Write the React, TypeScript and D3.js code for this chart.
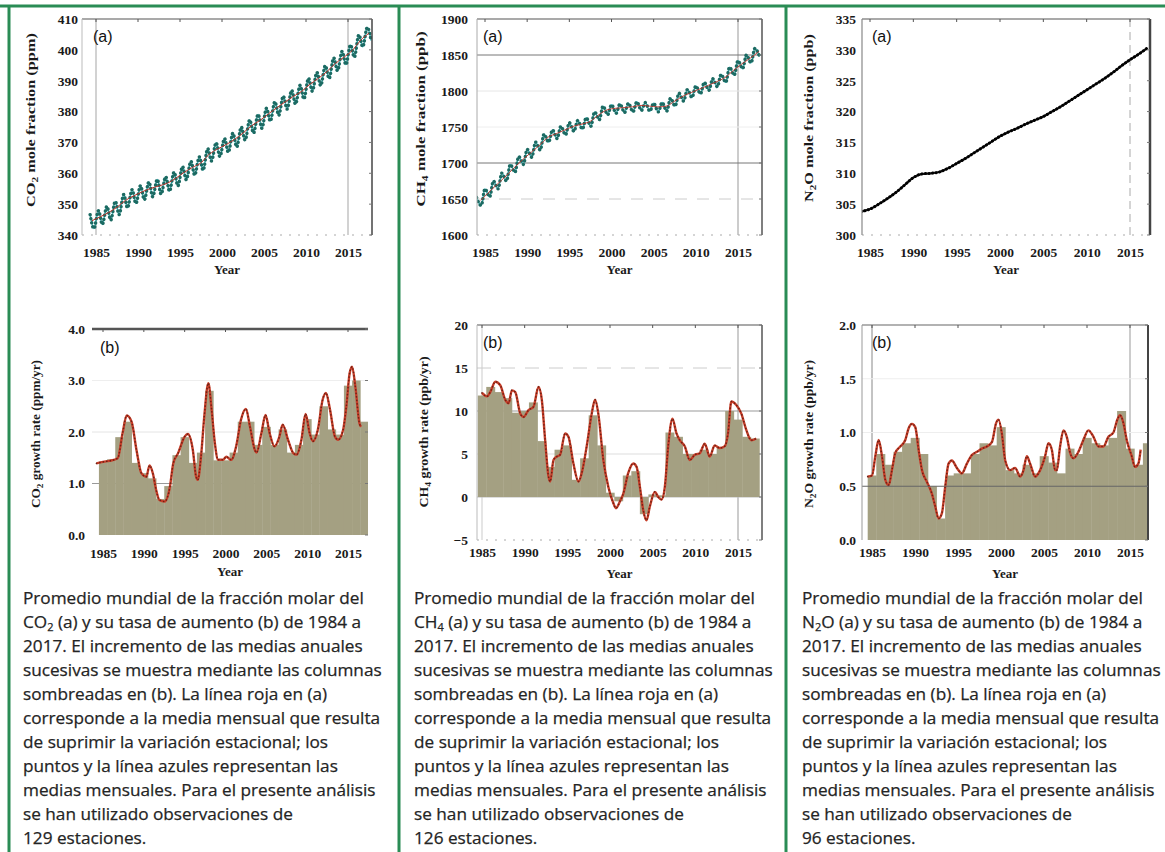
import React, { useEffect, useRef } from 'react';
import * as d3 from 'd3';

// ---- data ----
const years = [1984, 1985, 1986, 1987, 1988, 1989, 1990, 1991, 1992, 1993, 1994, 1995, 1996, 1997, 1998, 1999, 2000,
  2001, 2002, 2003, 2004, 2005, 2006, 2007, 2008, 2009, 2010, 2011, 2012, 2013, 2014, 2015, 2016, 2017];
const barYears = [1985, 1986, 1987, 1988, 1989, 1990, 1991, 1992, 1993, 1994, 1995, 1996, 1997, 1998, 1999, 2000,
  2001, 2002, 2003, 2004, 2005, 2006, 2007, 2008, 2009, 2010, 2011, 2012, 2013, 2014, 2015, 2016, 2017];
const yearTicks = [1985, 1990, 1995, 2000, 2005, 2010, 2015];

// CO2 (ppm): deseasonalised trend, seasonal maxima / minima
const co2Trend = [344.6, 345.9, 347.3, 349.0, 351.2, 352.7, 354.0, 355.1, 355.9, 356.8, 358.4, 360.3, 361.9, 363.4, 366.2, 367.9, 369.3,
  371.0, 373.0, 375.4, 377.1, 379.2, 381.2, 383.1, 384.9, 386.6, 388.9, 390.8, 393.0, 395.6, 397.6, 399.8, 403.1, 405.4];
const co2Peak = [346.6, 347.9, 349.3, 350.9, 353.1, 354.7, 356.0, 357.2, 358.0, 358.9, 360.4, 362.2, 363.9, 365.3, 368.0, 369.9, 371.3,
  373.0, 375.0, 377.3, 379.1, 381.1, 383.2, 385.0, 386.9, 388.5, 390.8, 392.7, 394.9, 397.4, 399.5, 401.6, 404.9, 407.3];
const co2Trough = [342.1, 343.4, 344.8, 346.6, 348.8, 350.2, 351.4, 352.4, 353.2, 354.2, 355.9, 357.9, 359.4, 361.0, 364.0, 365.4, 366.8,
  368.5, 370.7, 373.0, 374.6, 376.9, 378.8, 380.8, 382.4, 384.1, 386.6, 388.4, 390.7, 393.2, 395.2, 397.6, 401.0, 403.0];
const co2Bars = [1.42, 1.47, 1.9, 2.2, 1.4, 1.2, 1.1, 0.7, 0.95, 1.55, 1.9, 1.4, 1.6, 2.8, 1.45, 1.45, 1.6, 2.2, 2.2, 1.75, 2.1,
  1.75, 2.05, 1.6, 1.75, 2.25, 1.95, 2.5, 2.05, 1.95, 2.9, 3.0, 2.2];
const co2Rate = [[1984.2, 1.39], [1985.0, 1.42], [1985.8, 1.44], [1986.8, 1.49], [1987.4, 1.98], [1987.9, 2.32], [1988.5, 2.2],
  [1989.1, 1.65], [1989.7, 1.2], [1990.3, 1.13], [1990.7, 1.35], [1991.1, 1.2], [1991.5, 0.88], [1991.9, 0.68], [1992.55, 0.65],
  [1993.2, 0.94], [1993.6, 1.39], [1994.2, 1.59], [1995.0, 1.91], [1995.4, 1.96], [1996.0, 1.65], [1996.4, 1.13], [1996.6, 1.07],
  [1997.0, 1.52], [1997.4, 2.3], [1997.9, 2.95], [1998.3, 2.43], [1998.7, 1.78], [1999.1, 1.46], [1999.7, 1.46], [2000.1, 1.52],
  [2000.7, 1.46], [2001.3, 1.72], [2001.9, 2.24], [2002.5, 2.45], [2003.0, 2.1], [2003.6, 1.65], [2003.8, 1.6], [2004.4, 1.98],
  [2004.9, 2.33], [2005.4, 1.98], [2006.0, 1.72], [2006.6, 1.91], [2007.0, 2.14], [2007.65, 1.85], [2008.3, 1.59], [2008.7, 1.56],
  [2009.3, 1.85], [2009.8, 2.35], [2010.3, 1.98], [2010.7, 1.82], [2011.3, 2.04], [2011.9, 2.63], [2012.3, 2.76], [2012.8, 2.43],
  [2013.4, 1.91], [2013.8, 1.85], [2014.4, 2.04], [2014.8, 2.5], [2015.2, 3.14], [2015.5, 3.27], [2015.9, 2.88], [2016.4, 2.17],
  [2016.6, 2.1]];

// CH4 (ppb)
const ch4Trend = [1648, 1660, 1671, 1682, 1694, 1705, 1715, 1725, 1736, 1741, 1746, 1751, 1754, 1758, 1767, 1774, 1776,
  1777, 1778, 1780, 1779, 1778, 1779, 1786, 1793, 1798, 1803, 1808, 1813, 1819, 1829, 1838, 1846, 1855];
const ch4Peak = [1652, 1664, 1675, 1686, 1698, 1709, 1719, 1729, 1740, 1746, 1751, 1756, 1759, 1763, 1771, 1779, 1781,
  1782, 1783, 1785, 1784, 1783, 1784, 1790, 1797, 1802, 1807, 1812, 1817, 1823, 1833, 1842, 1850, 1859];
const ch4Trough = [1641, 1653, 1664, 1675, 1687, 1698, 1708, 1718, 1729, 1734, 1739, 1744, 1747, 1751, 1760, 1767, 1769,
  1770, 1771, 1773, 1772, 1771, 1772, 1779, 1786, 1791, 1796, 1801, 1806, 1812, 1822, 1831, 1839, 1848];
const ch4Bars = [11.8, 12.8, 12.2, 11.5, 9.8, 10.0, 11.0, 6.5, 3.5, 5.5, 6.0, 2.0, 4.5, 9.5, 6.0, 0.5, -0.5, 2.5, 3.0, -2.0, 0.3,
  0.2, 7.5, 7.0, 5.0, 5.0, 5.5, 5.0, 5.8, 10.0, 9.0, 7.0, 6.8];
const ch4Rate = [[1985.0, 12.1], [1985.58, 11.7], [1985.97, 12.2], [1986.56, 13.4], [1987.14, 13.0], [1987.73, 11.3], [1988.12, 10.9],
  [1988.5, 12.4], [1988.9, 12.2], [1989.48, 9.7], [1989.87, 9.3], [1990.45, 10.1], [1991.04, 10.5], [1991.62, 12.8], [1992.01, 11.3],
  [1992.4, 6.6], [1992.79, 2.4], [1992.99, 1.8], [1993.38, 4.3], [1993.77, 4.7], [1994.15, 4.9], [1994.74, 7.4], [1995.13, 7.0],
  [1995.71, 3.9], [1996.3, 1.8], [1996.69, 2.8], [1997.27, 5.9], [1997.86, 9.7], [1998.25, 11.3], [1998.63, 9.7], [1999.22, 4.3],
  [1999.8, 1.2], [2000.39, -0.7], [2000.7, -1.3], [2001.17, -0.5], [2001.56, 0.4], [2002.14, 2.8], [2002.73, 3.9], [2003.12, 3.5],
  [2003.5, 1.2], [2003.89, -1.5], [2004.28, -2.7], [2004.67, -1.1], [2005.26, 0.6], [2005.65, 0], [2006.04, -0.3], [2006.43, 1.2],
  [2006.82, 5.9], [2007.32, 9.1], [2007.79, 7.4], [2008.18, 6.6], [2008.76, 5.9], [2009.35, 4.3], [2009.93, 4.9], [2010.52, 5.1],
  [2011.1, 6.2], [2011.69, 4.7], [2012.27, 6.0], [2012.85, 5.7], [2013.44, 5.9], [2013.83, 7.4], [2014.22, 11.1], [2014.8, 10.7],
  [2015.39, 9.7], [2015.97, 7.8], [2016.55, 6.6], [2017.14, 6.8]];

// N2O (ppb)
const n2oMean = [303.8, 304.2, 305.0, 305.9, 306.9, 308.1, 309.3, 309.9, 310.0, 310.2, 310.8, 311.6, 312.4, 313.3, 314.2, 315.1, 316.0,
  316.7, 317.3, 318.0, 318.6, 319.2, 320.0, 320.8, 321.7, 322.6, 323.5, 324.4, 325.3, 326.3, 327.4, 328.4, 329.3, 330.3];
const n2oBars = [0.6, 0.8, 0.7, 0.82, 0.9, 0.95, 0.8, 0.5, 0.2, 0.6, 0.62, 0.62, 0.8, 0.9, 0.88, 1.05, 0.65, 0.62, 0.7, 0.62, 0.78,
  0.72, 0.62, 0.85, 0.8, 0.95, 0.9, 0.88, 0.95, 1.2, 0.85, 0.7, 0.9];
const n2oRate = [[1984.5, 0.59], [1985.0, 0.6], [1985.39, 0.78], [1985.77, 0.93], [1986.16, 0.78], [1986.55, 0.56], [1986.94, 0.51],
  [1987.32, 0.65], [1987.71, 0.81], [1988.29, 0.87], [1988.87, 0.93], [1989.26, 1.04], [1989.65, 1.08], [1990.03, 1.05], [1990.42, 0.84],
  [1990.81, 0.65], [1991.39, 0.54], [1991.97, 0.43], [1992.36, 0.31], [1992.74, 0.2], [1993.13, 0.25], [1993.52, 0.5], [1993.9, 0.71],
  [1994.29, 0.74], [1994.87, 0.67], [1995.45, 0.62], [1996.03, 0.71], [1996.61, 0.79], [1997.2, 0.82], [1997.78, 0.85], [1998.36, 0.87],
  [1998.94, 0.91], [1999.44, 1.09], [1999.71, 1.12], [2000.1, 0.99], [2000.49, 0.74], [2001.07, 0.65], [2001.65, 0.67], [2002.23, 0.59],
  [2002.62, 0.65], [2003.0, 0.78], [2003.39, 0.71], [2003.97, 0.59], [2004.55, 0.65], [2005.13, 0.78], [2005.52, 0.9], [2005.91, 0.84],
  [2006.29, 0.65], [2006.49, 0.65], [2006.87, 0.87], [2007.26, 1.02], [2007.65, 0.96], [2008.04, 0.81], [2008.42, 0.76], [2009.0, 0.82],
  [2009.58, 0.93], [2010.16, 1.02], [2010.75, 0.96], [2011.33, 0.87], [2011.91, 0.87], [2012.49, 0.96], [2013.07, 1.0], [2013.53, 1.12],
  [2013.84, 1.16], [2014.23, 1.09], [2014.62, 0.93], [2015.2, 0.78], [2015.58, 0.68], [2015.97, 0.71], [2016.24, 0.84]];

// tick values
const co2Ticks = [340, 350, 360, 370, 380, 390, 400, 410];
const ch4Ticks = [1600, 1650, 1700, 1750, 1800, 1850, 1900];
const n2oTicks = [300, 305, 310, 315, 320, 325, 330, 335];
const co2RateTicks = [0, 1, 2, 3, 4];
const ch4RateTicks = [-5, 0, 5, 10, 15, 20];
const n2oRateTicks = [0, 0.5, 1, 1.5, 2];

// caption text
const gasNames = [['CO', '2', ''], ['CH', '4', ''], ['N', '2', 'O']];
const stationCounts = [129, 126, 96];
const captionFirst = 'Promedio mundial de la fracción molar del';
const captionSecond = ' (a) y su tasa de aumento (b) de 1984 a';
const captionBody = [
  '2017. El incremento de las medias anuales',
  'sucesivas se muestra mediante las columnas',
  'sombreadas en (b). La línea roja en (a)',
  'corresponde a la media mensual que resulta',
  'de suprimir la variación estacional; los',
  'puntos y la línea azules representan las',
  'medias mensuales. Para el presente análisis',
  'se han utilizado observaciones de',
];

const W = 1165;
const H = 852;
const GREEN = '#2a8c55';
const FILL = '#a4a082';
const SERIF = '"Liberation Serif", "Times New Roman", serif';

const seasonal = (peakOff, peaks, troughOff, troughs) =>
  years.flatMap((yr, i) => [[yr + peakOff, peaks[i]], [yr + troughOff, troughs[i]]]);

const blueLines = (pts) => [
  { pts, stroke: '#46c3cc', width: 1.4 },
  { pts, stroke: '#1c6a62', width: 3.4, dash: '0.1 4', cap: 'round' },
];
const redRate = (pts) => [
  { pts, stroke: '#c73e29', width: 2.4 },
  { pts, stroke: '#6e2115', width: 1.6, dash: '0.1 3.4', cap: 'round' },
];

const panels = [
  {
    id: 'co2a', left: 82, right: 372, top: 19, bottom: 235, x1985: 96, x2015: 348,
    yDomain: [340, 410], yTicks: co2Ticks, fmt: d3.format('d'), yLabelRight: 78, xLabelTop: 247, xTitleY: 274,
    title: ['CO', '2', ' mole fraction (ppm)'], titleX: 35, titleCY: 120, titleLen: 174,
    tag: '(a)', tagX: 93, tagY: 42,
    vlines: [{ t: 1985, c: '#d2d2d2', w: 2 }, { t: 2015, c: '#d2d2d2', w: 2 }],
    hlines: [],
    frame: { top: ['#555', 1.2], right: ['#444', 1.5], left: ['#bbb', 1], bottom: ['#aaa', 1, '2 7'] },
    lines: [...blueLines(seasonal(0.3, co2Peak, 0.75, co2Trough)),
      { pts: years.map((yr, i) => [yr + 0.5, co2Trend[i]]), stroke: '#b8322a', width: 1 }],
  },
  {
    id: 'co2b', left: 92, right: 368, top: 329, bottom: 535, x1985: 103, x2015: 348,
    yDomain: [0, 4], yTicks: co2RateTicks, fmt: d3.format('.1f'), yLabelRight: 85, xLabelTop: 548, xTitleY: 576,
    title: ['CO', '2', ' growth rate (ppm/yr)'], titleX: 40, titleCY: 434, titleLen: 148,
    tag: '(b)', tagX: 100, tagY: 353,
    vlines: [],
    hlines: [{ v: 1, c: '#999', w: 1 }, { v: 2, c: '#e4e4e4', w: 1 }, { v: 3, c: '#eee', w: 1 }],
    frame: { top: ['#555', 2.5] },
    bars: co2Bars,
    lines: redRate(co2Rate),
  },
  {
    id: 'ch4a', left: 477, right: 762, top: 19, bottom: 235, x1985: 485, x2015: 738,
    yDomain: [1600, 1900], yTicks: ch4Ticks, fmt: d3.format('d'), yLabelRight: 468, xLabelTop: 247, xTitleY: 274,
    title: ['CH', '4', ' mole fraction (ppb)'], titleX: 425, titleCY: 119, titleLen: 175,
    tag: '(a)', tagX: 483, tagY: 42,
    vlines: [{ t: 2015, c: '#999', w: 1 }],
    hlines: [{ v: 1850, c: '#777', w: 1 }, { v: 1700, c: '#777', w: 1 }, { v: 1650, c: '#ccc', w: 1, dash: '12 10' },
      { v: 1800, c: '#e6e6e6', w: 1 }, { v: 1750, c: '#eee', w: 1 }],
    frame: { top: ['#555', 1.2], right: ['#555', 1.5], left: ['#aaa', 1], bottom: ['#aaa', 1, '2 7'] },
    lines: [...blueLines(seasonal(0.0, ch4Peak, 0.55, ch4Trough)),
      { pts: years.map((yr, i) => [yr + 0.5, ch4Trend[i]]), stroke: '#b8322a', width: 0.9 }],
  },
  {
    id: 'ch4b', left: 477, right: 762, top: 325, bottom: 540, x1985: 482, x2015: 738,
    yDomain: [-5, 20], yTicks: ch4RateTicks, fmt: d3.format('d'), yLabelRight: 468, xLabelTop: 547, xTitleY: 578,
    title: ['CH', '4', ' growth rate (ppb/yr)'], titleX: 428, titleCY: 432, titleLen: 151,
    tag: '(b)', tagX: 483, tagY: 348,
    vlines: [{ t: 1985, c: '#ddd', w: 1.5 }, { t: 2015, c: '#999', w: 1 }],
    hlines: [{ v: 15, c: '#ccc', w: 1, dash: '14 10' }, { v: 10, c: '#999', w: 1 }, { v: 5, c: '#ddd', w: 1 }, { v: 0, c: '#bbb', w: 1 }],
    frame: { top: ['#555', 1.2], right: ['#555', 1.5], left: ['#bbb', 1], bottom: ['#aaa', 1, '2 7'] },
    bars: ch4Bars,
    lines: redRate(ch4Rate),
  },
  {
    id: 'n2oa', left: 862, right: 1150, top: 19, bottom: 235, x1985: 870, x2015: 1130,
    yDomain: [300, 335], yTicks: n2oTicks, fmt: d3.format('d'), yLabelRight: 856, xLabelTop: 247, xTitleY: 274,
    title: ['N', '2', 'O mole fraction (ppb)'], titleX: 813, titleCY: 118, titleLen: 168,
    tag: '(a)', tagX: 872, tagY: 42,
    vlines: [{ t: 2015, c: '#aaa', w: 1, dash: '8 5' }],
    hlines: [],
    frame: { top: ['#555', 1.2], right: ['#444', 2.5], left: ['#888', 1.2], bottom: ['#aaa', 1, '2 7'] },
    lines: [
      { pts: years.map((yr, i) => [yr, n2oMean[i]]), stroke: '#141414', width: 2.2 },
      { pts: years.map((yr, i) => [yr, n2oMean[i]]), stroke: '#000', width: 3, dash: '0.1 3.5', cap: 'round' },
    ],
  },
  {
    id: 'n2ob', left: 862, right: 1148, top: 325, bottom: 540, x1985: 872, x2015: 1130,
    yDomain: [0, 2], yTicks: n2oRateTicks, fmt: d3.format('.1f'), yLabelRight: 856, xLabelTop: 547, xTitleY: 578,
    title: ['N', '2', 'O growth rate (ppb/yr)'], titleX: 813, titleCY: 434, titleLen: 148,
    tag: '(b)', tagX: 872, tagY: 348,
    vlines: [{ t: 1985, c: '#888', w: 1 }, { t: 2015, c: '#999', w: 1 }],
    hlines: [{ v: 0.5, c: '#666', w: 1.2, above: true }, { v: 1.5, c: '#eee', w: 1 }, { v: 1, c: '#eee', w: 1 }],
    frame: { top: ['#666', 1.2], right: ['#444', 2], left: ['#999', 1] },
    bars: n2oBars,
    lines: redRate(n2oRate),
  },
];

const drawPanel = (svg, defs, p) => {
  const x = d3.scaleLinear().domain([1985, 2015]).range([p.x1985, p.x2015]);
  const y = d3.scaleLinear().domain(p.yDomain).range([p.bottom, p.top]);
  const clipId = `clip-${p.id}`;
  defs.append('clipPath').attr('id', clipId)
    .append('rect').attr('x', p.left).attr('y', p.top - 2)
    .attr('width', p.right - p.left).attr('height', p.bottom - p.top + 4);

  const g = svg.append('g');
  const hline = (h) => g.append('line')
    .attr('x1', p.left).attr('x2', p.right).attr('y1', y(h.v)).attr('y2', y(h.v))
    .attr('stroke', h.c).attr('stroke-width', h.w).attr('stroke-dasharray', h.dash || null);

  // grid lines under the data
  p.vlines.forEach(v => g.append('line')
    .attr('x1', x(v.t)).attr('x2', x(v.t)).attr('y1', p.top).attr('y2', p.bottom)
    .attr('stroke', v.c).attr('stroke-width', v.w).attr('stroke-dasharray', v.dash || null));
  p.hlines.filter(h => !h.above).forEach(hline);

  const plot = g.append('g').attr('clip-path', `url(#${clipId})`);

  // shaded annual increments
  if (p.bars) {
    plot.selectAll('rect.bar')
      .data(barYears.map((yr, i) => ({ yr, v: p.bars[i] })))
      .join('rect')
      .attr('class', 'bar')
      .attr('x', d => x(d.yr - 0.5))
      .attr('width', d => x(d.yr + 0.5) - x(d.yr - 0.5) + 0.4)
      .attr('y', d => Math.min(y(d.v), y(0)))
      .attr('height', d => Math.abs(y(d.v) - y(0)))
      .attr('fill', FILL);
  }

  p.hlines.filter(h => h.above).forEach(hline);

  const line = d3.line().x(d => x(d[0])).y(d => y(d[1])).curve(d3.curveMonotoneX);
  p.lines.forEach(l => {
    plot.append('path')
      .attr('d', line(l.pts))
      .attr('fill', 'none')
      .attr('stroke', l.stroke)
      .attr('stroke-width', l.width)
      .attr('stroke-linecap', l.cap || 'butt')
      .attr('stroke-linejoin', 'round')
      .attr('stroke-dasharray', l.dash || null);
  });

  // frame
  const f = p.frame;
  const edge = (spec, x1, y1, x2, y2) => {
    if (!spec) return;
    g.append('line').attr('x1', x1).attr('y1', y1).attr('x2', x2).attr('y2', y2)
      .attr('stroke', spec[0]).attr('stroke-width', spec[1]).attr('stroke-dasharray', spec[2] || null);
  };
  edge(f.top, p.left, p.top, p.right, p.top);
  edge(f.bottom, p.left, p.bottom, p.right, p.bottom);
  edge(f.left, p.left, p.top, p.left, p.bottom);
  edge(f.right, p.right, p.top, p.right, p.bottom);

  // small ticks on the top edge and right edge
  g.append('g').selectAll('line').data(yearTicks).join('line')
    .attr('x1', d => x(d)).attr('x2', d => x(d)).attr('y1', p.top).attr('y2', p.top + 3)
    .attr('stroke', '#555').attr('stroke-width', 1);
  g.append('g').selectAll('line').data(p.yTicks).join('line')
    .attr('x1', p.right - 3).attr('x2', p.right).attr('y1', d => y(d)).attr('y2', d => y(d))
    .attr('stroke', '#777').attr('stroke-width', 1);

  // axes (labels only)
  const xAxis = g.append('g').attr('transform', `translate(0,${p.xLabelTop})`)
    .call(d3.axisBottom(x).tickValues(yearTicks).tickSize(0).tickPadding(0).tickFormat(d3.format('d')));
  const yAxis = g.append('g').attr('transform', `translate(${p.yLabelRight},0)`)
    .call(d3.axisLeft(y).tickValues(p.yTicks).tickSize(0).tickPadding(0).tickFormat(p.fmt));
  [xAxis, yAxis].forEach(a => {
    a.select('.domain').remove();
    a.attr('font-family', SERIF).attr('font-size', 13.5).attr('font-weight', 'bold').style('color', '#1a1a1a');
  });

  g.append('text')
    .attr('x', (p.left + p.right) / 2).attr('y', p.xTitleY)
    .attr('text-anchor', 'middle')
    .attr('font-family', SERIF).attr('font-size', 13).attr('font-weight', 'bold').attr('fill', '#1a1a1a')
    .text('Year');

  const t = g.append('text')
    .attr('transform', `translate(${p.titleX},${p.titleCY}) rotate(-90)`)
    .attr('text-anchor', 'middle')
    .attr('font-family', SERIF).attr('font-size', 13).attr('font-weight', 'bold').attr('fill', '#1a1a1a')
    .attr('textLength', p.titleLen).attr('lengthAdjust', 'spacingAndGlyphs');
  t.append('tspan').text(p.title[0]);
  t.append('tspan').attr('font-size', 9).attr('dy', 3).text(p.title[1]);
  t.append('tspan').attr('dy', -3).text(p.title[2]);

  g.append('text')
    .attr('x', p.tagX).attr('y', p.tagY)
    .attr('font-family', '"Liberation Sans", Arial, sans-serif').attr('font-size', 16).attr('fill', '#111')
    .text(p.tag);
};

const App = () => {
  const svgRef = useRef(null);

  useEffect(() => {
    const svg = d3.select(svgRef.current);
    svg.selectAll('*').remove();
    svg.attr('width', W).attr('height', H).attr('viewBox', `0 0 ${W} ${H}`);

    svg.append('rect').attr('width', W).attr('height', H).attr('fill', '#fff');
    const defs = svg.append('defs');

    panels.forEach(p => drawPanel(svg, defs, p));

    // captions
    const colX = [23, 414, 802];
    colX.forEach((cx, ci) => {
      const cap = svg.append('g')
        .attr('font-family', '"Open Sans", "Noto Sans", sans-serif')
        .attr('font-size', 17.2)
        .attr('fill', '#242424')
        .attr('stroke', '#242424')
        .attr('stroke-width', 0.25);
      const lineY = (k) => 604 + k * 24;
      cap.append('text').attr('x', cx).attr('y', lineY(0)).text(captionFirst);
      const second = cap.append('text').attr('x', cx).attr('y', lineY(1));
      second.append('tspan').text(gasNames[ci][0]);
      second.append('tspan').attr('font-size', 11).attr('dy', 3).text(gasNames[ci][1]);
      second.append('tspan').attr('dy', -3).text(gasNames[ci][2] + captionSecond);
      captionBody.forEach((txt, k) => {
        cap.append('text').attr('x', cx).attr('y', lineY(k + 2)).text(txt);
      });
      cap.append('text').attr('x', cx).attr('y', lineY(10)).text(`${stationCounts[ci]} estaciones.`);
    });

    // green frame
    const border = svg.append('g').attr('stroke', GREEN).attr('stroke-width', 3).attr('fill', 'none');
    border.append('line').attr('x1', 0).attr('x2', W).attr('y1', 6).attr('y2', 6);
    [9, 399, 786].forEach(bx => border.append('line').attr('x1', bx).attr('x2', bx).attr('y1', 5).attr('y2', H));
  }, []);

  return (
    <svg ref={svgRef} style={{ position: 'absolute', left: 0, top: 0, display: 'block' }}></svg>
  );
};

export default App;
